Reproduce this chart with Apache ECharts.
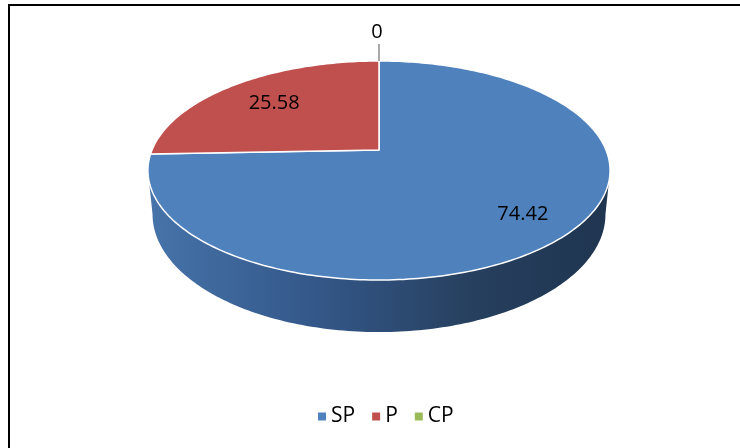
<!DOCTYPE html>
<html>
<head>
<meta charset="utf-8">
<style>
  html, body { margin: 0; padding: 0; background: #fff; }
  #chart { width: 740px; height: 448px; }
</style>
<script src="https://cdn.jsdelivr.net/npm/echarts@6/dist/echarts.min.js"></script>
</head>
<body>
<div id="chart"></div>
<script>
// Share of each category
const categories = ['SP', 'P', 'CP'];
const values = [74.42, 25.58, 0];

// Palette
const colors = ['#4f81bd', '#c0504d', '#9bbb59'];
const wallColors = [
  ['#4673a9', '#34588a', '#27405f', '#1f3550'],
  ['#a8403d', '#8c3331', '#702826', '#5a1f1d'],
  ['#86a34a', '#6f873c', '#5a6e30', '#485826']
];

// Projection of the tilted disc (perspective view from above)
const CX = 379, CY = 150;      // pie centre on screen
const RX = 227, RY = 105.7;    // radii of the top face
const PERSP = 0.187;           // depth foreshortening
const DEPTH = 42.3;            // thickness of the disc
const BOTTOM_SHRINK = 0.98;    // bottom rim is slightly farther away
const LABEL_FRAC = [0.79, 0.70, 1.0];
const FONT = '"Open Sans", "Liberation Sans", sans-serif';

const total = values.reduce((a, b) => a + b, 0);
const TAU = Math.PI * 2;
const T_RIGHT = Math.acos(-PERSP);        // silhouette on the right
const T_LEFT = TAU - Math.acos(-PERSP);   // silhouette on the left

function startAngle(i) {
  let s = 0;
  for (let k = 0; k < i; k++) s += values[k];
  return TAU * s / total;
}

// angle t measured clockwise from 12 o'clock, f = fraction of radius
function proj(t, f, drop, shrink) {
  const X = f * Math.sin(t), Z = f * Math.cos(t);
  const w = 1 + PERSP * Z;
  const sx = shrink || 1;
  return [CX + RX * sx * X / w, CY - RY * Z / w + (drop || 0) / w];
}

function arcPoints(a0, a1, f, drop, shrink) {
  const pts = [];
  const n = Math.max(2, Math.ceil(Math.abs(a1 - a0) / (Math.PI / 180)));
  for (let k = 0; k <= n; k++) {
    pts.push(proj(a0 + (a1 - a0) * k / n, f, drop, shrink));
  }
  return pts;
}

// Front wall of the disc
function renderWall(params, api) {
  const i = params.dataIndex;
  const v = api.value(0);
  const a0 = startAngle(i), a1 = a0 + TAU * v / total;
  const lo = Math.max(a0, T_RIGHT), hi = Math.min(a1, T_LEFT);
  if (!(hi > lo)) return { type: 'group', children: [] };
  const top = arcPoints(lo, hi, 1, 0, 1);
  const bottom = arcPoints(hi, lo, 1, DEPTH, BOTTOM_SHRINK);
  const c = wallColors[i];
  return {
    type: 'polygon',
    shape: { points: top.concat(bottom) },
    style: {
      fill: {
        type: 'linear', global: true,
        x: CX - RX, y: 0, x2: CX + RX, y2: 0,
        colorStops: [
          { offset: 0, color: c[0] },
          { offset: 0.35, color: c[1] },
          { offset: 0.7, color: c[2] },
          { offset: 1, color: c[3] }
        ]
      },
      stroke: null
    }
  };
}

// Top face of one slice with its value label
function makeTopRenderer(i) {
  return function (params, api) {
    const v = api.value(0);
    const a0 = startAngle(i), a1 = a0 + TAU * v / total;
    const children = [];
    const label = String(v);
    if (v > 0) {
      const pts = [[CX, CY]].concat(arcPoints(a0, a1, 1, 0, 1));
      children.push({
        type: 'polygon',
        shape: { points: pts },
        style: { fill: colors[i], stroke: '#ffffff', lineWidth: 1.5, lineJoin: 'round' }
      });
      const mid = (a0 + a1) / 2;
      const p = proj(mid, LABEL_FRAC[i]);
      children.push({
        type: 'text',
        z2: 10,
        style: {
          text: label, x: p[0], y: p[1],
          align: 'center', verticalAlign: 'middle',
          textAlign: 'center', textVerticalAlign: 'middle',
          fontSize: 20, fontFamily: FONT, fill: '#000'
        }
      });
    } else {
      // empty slice: label outside with a leader line
      const rim = proj(a0, 1);
      const end = [rim[0], rim[1] - 17];
      children.push({
        type: 'line',
        shape: { x1: rim[0], y1: rim[1], x2: end[0], y2: end[1] },
        style: { stroke: '#8c8c8c', lineWidth: 1.5 }
      });
      children.push({
        type: 'text',
        style: {
          text: label, x: end[0] - 2, y: end[1] - 12,
          align: 'center', verticalAlign: 'middle',
          textAlign: 'center', textVerticalAlign: 'middle',
          fontSize: 20, fontFamily: FONT, fill: '#000'
        }
      });
    }
    return { type: 'group', children: children };
  };
}

const series = [{
  type: 'custom',
  name: 'wall',
  coordinateSystem: 'none',
  silent: true,
  z: 1,
  data: values.map(v => [v]),
  renderItem: renderWall
}];

categories.forEach((name, i) => {
  series.push({
    type: 'custom',
    name: name,
    coordinateSystem: 'none',
    z: 2 + i,
    itemStyle: { color: colors[i] },
    data: [[values[i]]],
    renderItem: makeTopRenderer(i)
  });
});

const chart = echarts.init(document.getElementById('chart'), null, { renderer: 'canvas' });
chart.setOption({
  animation: false,
  backgroundColor: '#ffffff',
  legend: {
    data: categories,
    left: 313,
    top: 401,
    icon: 'rect',
    itemWidth: 8,
    itemHeight: 8,
    itemGap: 17,
    textStyle: { fontSize: 21, fontFamily: FONT, color: '#000' }
  },
  graphic: [
    { type: 'line', shape: { x1: 8, y1: 5, x2: 740, y2: 5 }, style: { stroke: '#000', lineWidth: 2 } },
    { type: 'line', shape: { x1: 9, y1: 4, x2: 9, y2: 448 }, style: { stroke: '#000', lineWidth: 2 } }
  ],
  series: series
});
</script>
</body>
</html>
